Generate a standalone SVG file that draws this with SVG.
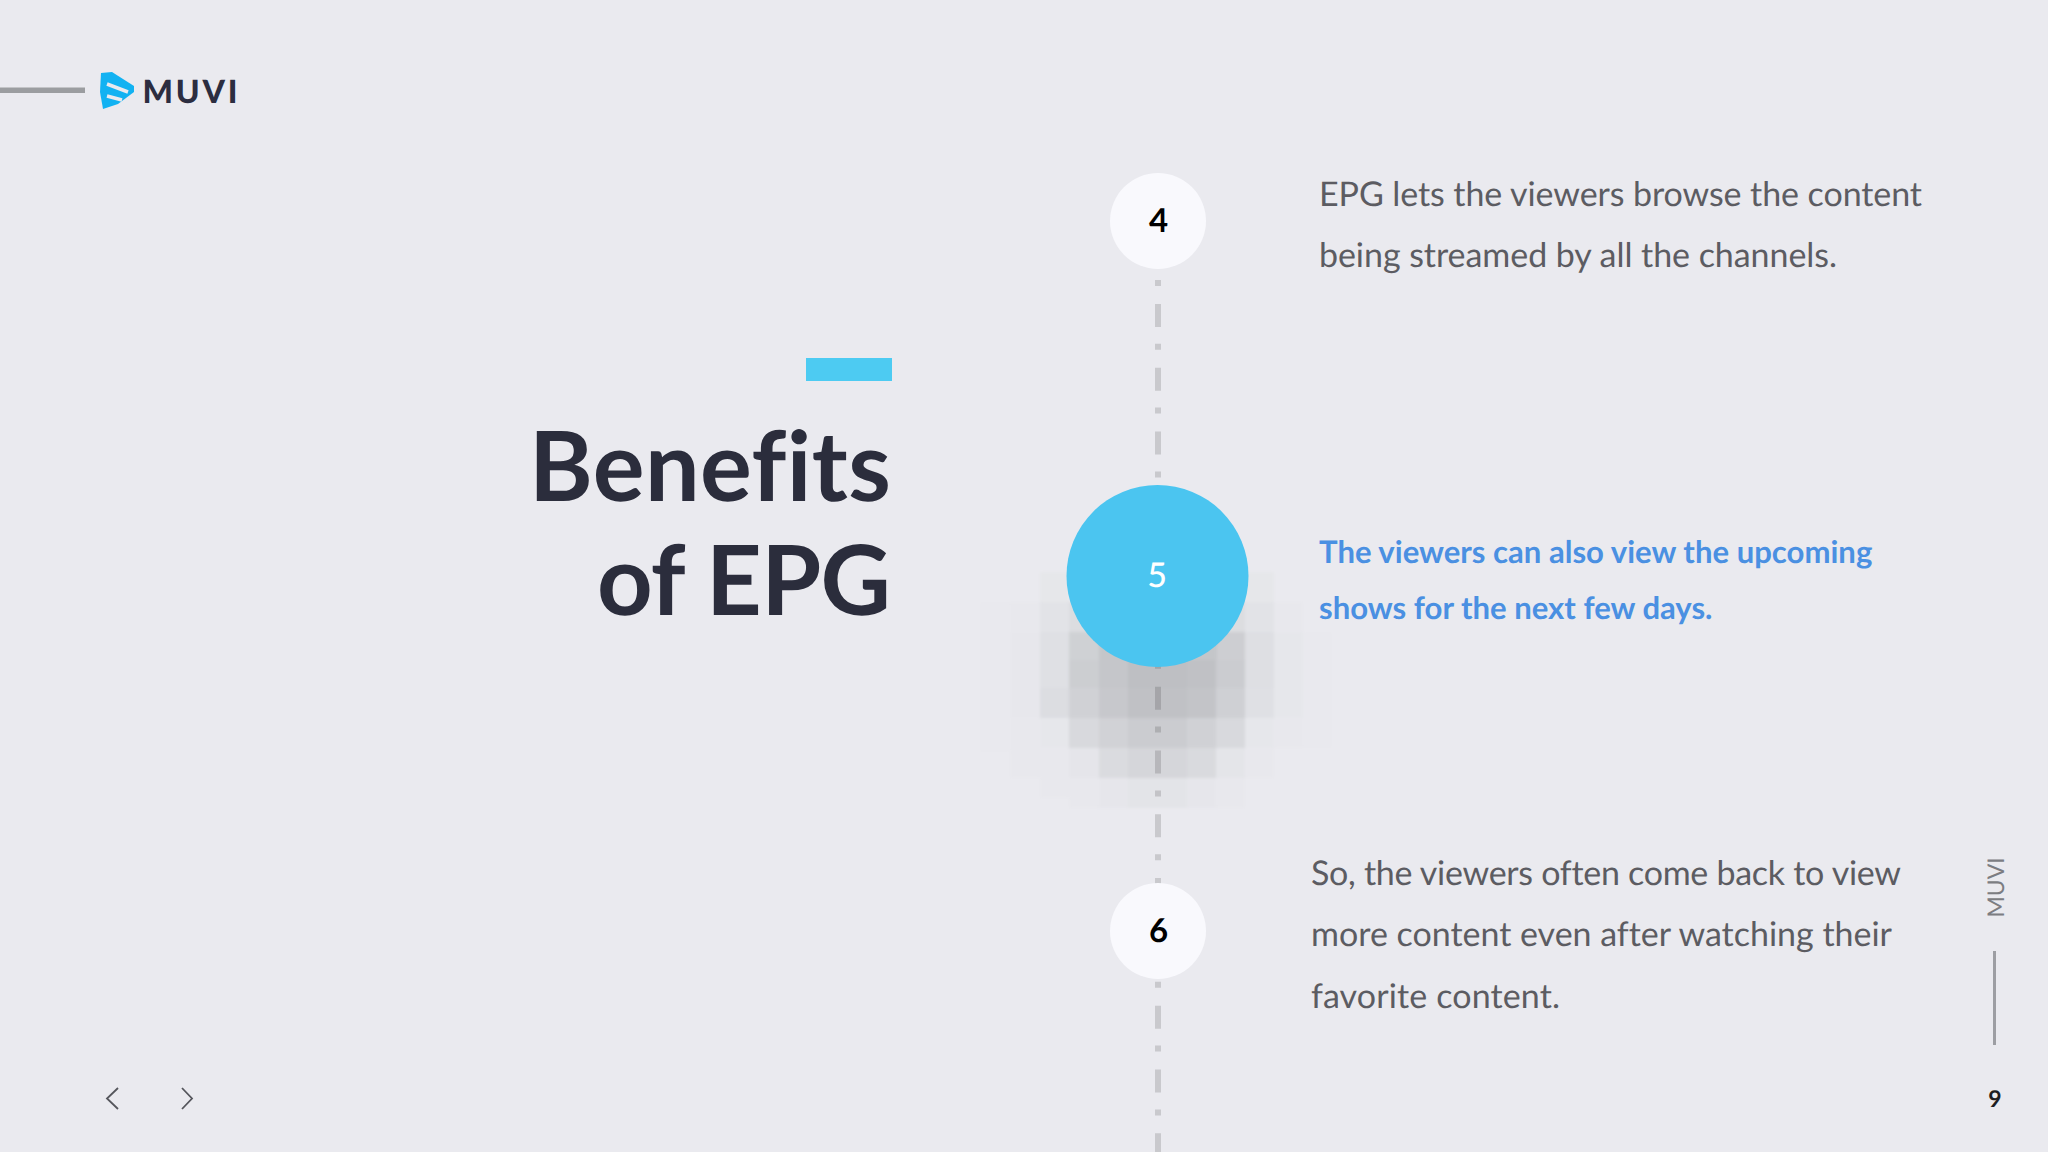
<svg xmlns="http://www.w3.org/2000/svg" width="2048" height="1152" viewBox="0 0 2048 1152">
<style>
text{font-family:"Lato","Liberation Sans",sans-serif;text-rendering:geometricPrecision;font-variant-ligatures:none}
.body{font-size:34px;fill:#5c5c62}
.hl{font-size:31.100px;font-weight:700;fill:#4a90e2}
.title{font-size:97px;font-weight:700;fill:#2b2d3c;text-anchor:end}
.num{font-size:33px;font-weight:700;fill:#000;text-anchor:middle}
.chev{fill:none;stroke:#55565c;stroke-width:1.8}
.light{fill:#f9f9fd}
</style>
<defs><filter id="soft" x="-5%" y="-5%" width="110%" height="110%"><feGaussianBlur stdDeviation="1.6"/></filter></defs>
<rect width="2048" height="1152" fill="#eaeaef"/>
<g id="shadow" filter="url(#soft)">
<rect x="980" y="602" width="30" height="150" fill="#e9e9ee"/><rect x="1303" y="632" width="29" height="116" fill="#e9e9ee"/><rect x="1010" y="602" width="30" height="30" fill="#e8e8ed"/><rect x="1010" y="718" width="30" height="60" fill="#e8e8ed"/><rect x="1274" y="602" width="29" height="30" fill="#e8e8ed"/><rect x="1274" y="718" width="29" height="30" fill="#e8e8ed"/><rect x="1040" y="748" width="29" height="50" fill="#e8e8ed"/><rect x="1245" y="748" width="29" height="30" fill="#e8e8ed"/><rect x="1069" y="778" width="30" height="30" fill="#e8e8ed"/><rect x="1216" y="778" width="29" height="30" fill="#e8e8ed"/>
<rect x="1040" y="572" width="29" height="30" fill="#e6e7ea"/><rect x="1245" y="572" width="29" height="30" fill="#e6e7ea"/>
<rect x="1040" y="602" width="29" height="30" fill="#e2e3e7"/><rect x="1069" y="602" width="30" height="30" fill="#dcdde0"/><rect x="1216" y="602" width="29" height="30" fill="#dcdde0"/><rect x="1245" y="602" width="29" height="30" fill="#e2e3e7"/>
<rect x="1010" y="632" width="30" height="86" fill="#e7e7ec"/><rect x="1040" y="632" width="29" height="56" fill="#dfe0e4"/><rect x="1069" y="632" width="30" height="28" fill="#cfd1d4"/><rect x="1099" y="632" width="118" height="28" fill="#c4c6c9"/><rect x="1217" y="632" width="28" height="28" fill="#cdced2"/><rect x="1245" y="632" width="29" height="56" fill="#dedfe3"/><rect x="1274" y="632" width="29" height="86" fill="#e6e7eb"/>
<rect x="1069" y="660" width="30" height="28" fill="#ccced1"/><rect x="1099" y="660" width="29" height="28" fill="#c5c6ca"/><rect x="1128" y="660" width="59" height="28" fill="#bebfc3"/><rect x="1187" y="660" width="29" height="28" fill="#c0c1c5"/><rect x="1216" y="660" width="29" height="28" fill="#cbccd0"/>
<rect x="1040" y="688" width="29" height="30" fill="#dcdde1"/><rect x="1069" y="688" width="30" height="30" fill="#d0d1d5"/><rect x="1099" y="688" width="29" height="30" fill="#c7c8cc"/><rect x="1128" y="688" width="59" height="30" fill="#c0c1c5"/><rect x="1187" y="688" width="29" height="30" fill="#c3c4c8"/><rect x="1216" y="688" width="29" height="30" fill="#cfd0d4"/><rect x="1245" y="688" width="29" height="30" fill="#dfe0e4"/>
<rect x="1040" y="718" width="29" height="30" fill="#e6e7eb"/><rect x="1069" y="718" width="30" height="30" fill="#d8d9dd"/><rect x="1099" y="718" width="29" height="30" fill="#d1d2d6"/><rect x="1128" y="718" width="59" height="30" fill="#cbccd0"/><rect x="1187" y="718" width="29" height="30" fill="#d0d1d5"/><rect x="1216" y="718" width="29" height="30" fill="#d8d9dd"/><rect x="1245" y="718" width="29" height="30" fill="#e6e7eb"/>
<rect x="1069" y="748" width="30" height="30" fill="#e5e5ea"/><rect x="1099" y="748" width="29" height="30" fill="#dadbdf"/><rect x="1128" y="748" width="59" height="30" fill="#d5d6da"/><rect x="1187" y="748" width="29" height="30" fill="#d9dade"/><rect x="1216" y="748" width="29" height="30" fill="#e4e5e9"/>
<rect x="1099" y="778" width="29" height="30" fill="#e6e6eb"/><rect x="1128" y="778" width="59" height="30" fill="#e3e4e8"/><rect x="1187" y="778" width="29" height="30" fill="#e6e6eb"/>
</g>
<g id="connectors">
<line x1="1158" y1="280" x2="1158" y2="1152" stroke="#000" stroke-opacity=".14" stroke-width="6" stroke-dasharray="6 17.9 23 16.9"/>
</g>
<g id="node-4"><circle class="light" cx="1158" cy="221" r="48"/><text class="num" x="1158.500" y="232">4</text></g>
<g id="node-5"><circle cx="1157.500" cy="576" r="91" fill="#4bc5f0"/><text class="num" x="1157" y="587" style="fill:#fff;font-weight:500;font-size:34px">5</text></g>
<g id="node-6"><circle class="light" cx="1158" cy="931" r="48"/><text class="num" x="1158.500" y="942">6</text></g>
<g id="logo">
<rect x="0" y="87.500" width="85" height="5.500" fill="#9b9da0"/>
<path d="M101 73L112 72L134 86V92L118 104L103 109L100 92Z" fill="#12b2f2"/>
<path d="M107 84L128 92M107 96L122 100" stroke="#eaeaef" stroke-width="3.500" fill="none"/>
<text x="142.500" y="102.500" font-size="32" font-weight="900" fill="#2c2d40" textLength="95">MUVI</text>
</g>
<g id="title">
<rect x="806" y="358" width="86" height="23" fill="#4dcbf2"/>
<text class="title" x="891" y="501" textLength="362">Benefits</text>
<text class="title" x="891" y="615" textLength="294">of EPG</text>
</g>
<g id="text-4"><text class="body" x="1319" y="206" textLength="603">EPG lets the viewers browse the content</text><text class="body" x="1319" y="267" textLength="518">being streamed by all the channels.</text></g>
<g id="text-5"><text class="hl" x="1319" y="562.500">The viewers can also view the upcoming</text><text class="hl" x="1319" y="618.500">shows for the next few days.</text></g>
<g id="text-6"><text class="body" x="1311" y="885" textLength="590">So, the viewers often come back to view</text><text class="body" x="1311" y="946" textLength="581">more content even after watching their</text><text class="body" x="1311" y="1008" textLength="249">favorite content.</text></g>
<g id="footer">
<path class="chev" d="M118 1088L107 1098.500L118 1109"/>
<path class="chev" d="M182 1088L192 1098.500L182 1109"/>
<text transform="translate(2004 917.500) rotate(-90)" font-size="23" fill="#7c7d82">MUVI</text>
<rect x="1993" y="951" width="3" height="94" fill="#9d9ea3"/>
<text x="1995" y="1107" font-size="23" font-weight="700" fill="#1d1d22" text-anchor="middle">9</text>
</g>
</svg>
